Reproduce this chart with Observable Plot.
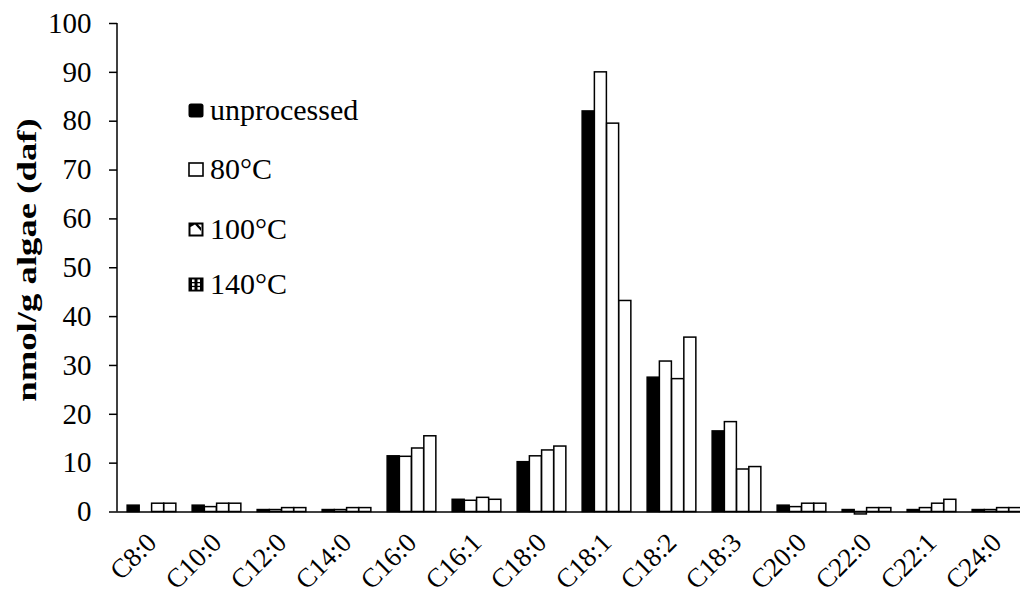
<!DOCTYPE html>
<html>
<head>
<meta charset="utf-8">
<script src="https://cdn.jsdelivr.net/npm/d3@7"></script>
<script src="https://cdn.jsdelivr.net/npm/@observablehq/plot@0.6"></script>
<style>
  html, body { margin: 0; padding: 0; background: #fff; }
  #wrap { position: relative; width: 1020px; height: 598px; overflow: hidden; }
  .leg { position: absolute; left: 188px; display: flex; align-items: center; font-family: "Liberation Serif", "Times New Roman", serif; font-size: 30px; color: #000; height: 34px; }
  .leg svg { display: block; margin-right: 6px; }
  .leg span { display: inline-block; line-height: 34px; }
</style>
</head>
<body>
<div id="wrap"></div>
<script>
const categories = ["C8:0","C10:0","C12:0","C14:0","C16:0","C16:1","C18:0","C18:1","C18:2","C18:3","C20:0","C22:0","C22:1","C24:0"];
const seriesNames = ["unprocessed","80°C","100°C","140°C"];
const unprocessed = [1.3, 1.3, 0.4, 0.4, 11.4, 2.5, 10.2, 82.0, 27.5, 16.5, 1.3, 0.4, 0.4, 0.4];
const c80        = [0.0, 1.0, 0.4, 0.4, 11.3, 2.3, 11.4, 90.0, 30.8, 18.4, 1.0, -0.5, 0.8, 0.4];
const c100       = [1.7, 1.7, 0.8, 0.8, 13.0, 2.9, 12.6, 79.5, 27.2, 8.7, 1.7, 0.8, 1.7, 0.8];
const c140       = [1.7, 1.7, 0.8, 0.8, 15.5, 2.5, 13.4, 43.2, 35.7, 9.2, 1.7, 0.8, 2.5, 0.8];
const yTicks = [0,10,20,30,40,50,60,70,80,90,100];
const yLabel = "nmol/g algae (daf)";

const seriesValues = [unprocessed, c80, c100, c140];
const fills = ["black", "white", "white", "white"];

const W = 1020, H = 598;
const mL = 117, mR = -10, mT = 23, mB = 86.5;
const step = (W - mR - mL) / categories.length;
const groupOff = step * 0.125;
const barW = step * 0.75 / 4;

const barMarks = seriesValues.map((vals, i) =>
  Plot.barY(categories.map((c, j) => ({cat: c, v: vals[j]})), {
    x: "cat", y: "v",
    fill: fills[i], stroke: "black", strokeWidth: 1.5,
    insetLeft: groupOff + i * barW,
    insetRight: step - groupOff - (i + 1) * barW
  })
);

const chart = Plot.plot({
  width: W, height: H,
  marginLeft: mL, marginRight: mR, marginTop: mT, marginBottom: mB,
  style: {fontFamily: "'Liberation Serif', 'Times New Roman', serif", fontSize: "29px", background: "white", color: "black", overflow: "hidden"},
  x: {domain: categories, padding: 0, label: null},
  y: {domain: [0, 100], label: null},
  marks: [
    ...barMarks,
    Plot.ruleY([0], {stroke: "black", strokeWidth: 1.5}),
    Plot.axisY({ticks: yTicks, tickSize: 8, tickPadding: 18, tickFormat: d => String(d), label: null, stroke: "black", strokeWidth: 1.5}),
    Plot.axisX({tickRotate: -45, tickSize: 0, tickPadding: 26, label: null})
  ]
});

const ns = "http://www.w3.org/2000/svg";
// x tick label size
chart.querySelectorAll('g[aria-label="x-axis tick label"]').forEach(g => g.setAttribute("font-size", "27"));

// y-axis line
const line = document.createElementNS(ns, "line");
line.setAttribute("x1", mL); line.setAttribute("x2", mL);
line.setAttribute("y1", mT); line.setAttribute("y2", H - mB);
line.setAttribute("stroke", "black"); line.setAttribute("stroke-width", "1.5");
chart.appendChild(line);

// y-axis title (bold, rotated, elongated as in the reference)
const lab = document.createElementNS(ns, "text");
lab.textContent = yLabel;
lab.setAttribute("font-weight", "bold");
lab.setAttribute("font-size", "27");
lab.setAttribute("text-anchor", "middle");
lab.setAttribute("dy", "0.35em");
lab.setAttribute("transform", "translate(27,260) rotate(-90) scale(1.36,1)");
chart.appendChild(lab);

const wrap = document.getElementById("wrap");
wrap.appendChild(chart);

// legend
const swatches = {
  "unprocessed": `<svg width="16" height="15"><rect x="0.5" y="0.5" width="15" height="14" rx="2.5" fill="black"/></svg>`,
  "80°C": `<svg width="16" height="15"><rect x="1" y="1" width="14" height="13" fill="white" stroke="black" stroke-width="1.6"/></svg>`,
  "100°C": `<svg width="16" height="15"><rect x="0.5" y="0.5" width="15" height="14" fill="black"/><polygon points="2.5,5 2.5,12.5 13.5,12.5 13.5,2.5 10,2.5 13,5.5 13,9 7,2.5" fill="white"/></svg>`,
  "140°C": `<svg width="16" height="15"><rect x="0.5" y="0.5" width="15" height="14" fill="black"/><rect x="4" y="2.5" width="2.5" height="2.5" fill="white"/><rect x="9.5" y="2.5" width="2.5" height="2.5" fill="white"/><rect x="4" y="6.3" width="2.5" height="2.5" fill="white"/><rect x="9.5" y="6.3" width="2.5" height="2.5" fill="white"/><rect x="4" y="10.1" width="2.5" height="2.5" fill="white"/><rect x="9.5" y="10.1" width="2.5" height="2.5" fill="white"/></svg>`
};
const legY = [110, 169, 229, 284];
seriesNames.forEach((s, i) => {
  const d = document.createElement("div");
  d.className = "leg";
  d.style.top = (legY[i] - 17) + "px";
  d.innerHTML = swatches[s] + `<span>${s}</span>`;
  wrap.appendChild(d);
});
</script>
</body>
</html>
